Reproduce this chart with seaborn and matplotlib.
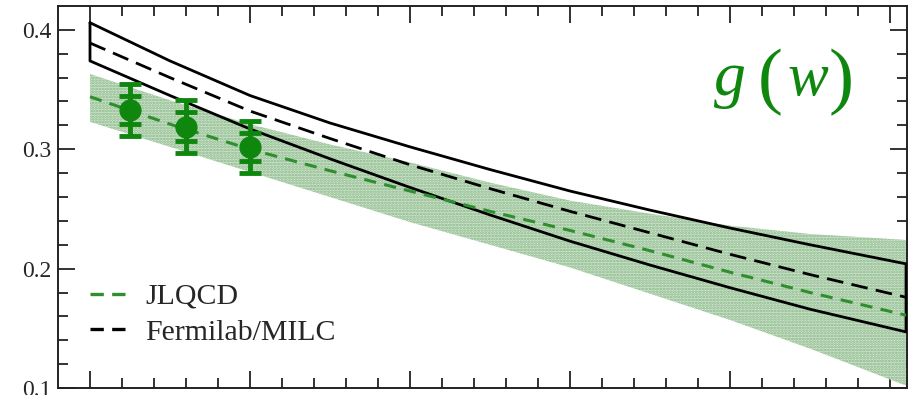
import pandas as pd
import seaborn as sns
import matplotlib.pyplot as plt
from matplotlib.lines import Line2D

# recoil w and form factor g(w)
w = [1.0, 1.05, 1.1, 1.15, 1.2, 1.25, 1.3, 1.35, 1.4, 1.45, 1.51]
fnal_hi = [0.406, 0.374, 0.345, 0.322, 0.302, 0.283, 0.265, 0.249, 0.234, 0.220, 0.204]
fnal_mid = [0.389, 0.360, 0.332, 0.309, 0.287, 0.267, 0.248, 0.230, 0.212, 0.195, 0.176]
fnal_lo = [0.374, 0.345, 0.317, 0.292, 0.268, 0.245, 0.223, 0.203, 0.184, 0.166, 0.147]
jl_hi = [0.363, 0.341, 0.321, 0.304, 0.289, 0.272, 0.257, 0.246, 0.236, 0.229, 0.224]
jl_mid = [0.344, 0.321, 0.300, 0.282, 0.265, 0.248, 0.232, 0.215, 0.197, 0.180, 0.161]
jl_lo = [0.323, 0.302, 0.281, 0.260, 0.239, 0.220, 0.201, 0.179, 0.157, 0.133, 0.102]

# JLQCD lattice points
pt_w = [1.025, 1.06, 1.10]
pt_g = [0.333, 0.319, 0.302]
pt_err_tot = [0.022, 0.022, 0.022]
pt_err_stat = [0.012, 0.012, 0.012]

black = '#000000'
lgreen = '#2f8f2f'
dgreen = '#0f870f'

sns.set_theme(style='ticks')
plt.rcParams['font.family'] = ['Liberation Serif', 'DejaVu Serif']
plt.rcParams['hatch.linewidth'] = 1.3

df = pd.DataFrame({'w': w, 'hi': fnal_hi, 'mid': fnal_mid, 'lo': fnal_lo,
                   'jhi': jl_hi, 'jmid': jl_mid, 'jlo': jl_lo})

fig = plt.figure(figsize=(9.12, 3.95), dpi=100)
ax = fig.add_axes([58 / 912, 1 - 388 / 395, 849 / 912, 382 / 395])

# JLQCD band
ax.fill_between(df['w'], df['jlo'], df['jhi'], facecolor='#d2e9cf',
                edgecolor='#86b286', hatch='......', linewidth=0, zorder=1)

# Fermilab/MILC band outline
ax.plot(list(w) + list(w[::-1]) + [w[0]], fnal_hi + fnal_lo[::-1] + [fnal_hi[0]],
        color=black, lw=2, zorder=3)
sns.lineplot(data=df, x='w', y='mid', color=black, lw=2, ax=ax, zorder=3,
             linestyle=(0, (6, 3)))
sns.lineplot(data=df, x='w', y='jmid', color=lgreen, lw=2.2, ax=ax, zorder=4,
             linestyle=(0, (4, 2.7)))

# points with two-level errors
ax.errorbar(pt_w, pt_g, yerr=pt_err_tot, fmt='none', ecolor=dgreen,
            elinewidth=3.5, capsize=8, capthick=3.5, zorder=5)
ax.errorbar(pt_w, pt_g, yerr=pt_err_stat, fmt='o', color=dgreen, ms=15,
            elinewidth=3.5, capsize=8, capthick=3.5, zorder=6)

# g(w) label
lbl = dict(transform=ax.transAxes, color=dgreen, va='baseline', ha='center')
ax.text(0.7915, 0.767, 'g', fontsize=46, fontstyle='italic', **lbl)
ax.text(0.883, 0.767, 'w', fontsize=44, fontstyle='italic', **lbl)
par = dict(transform=ax.transAxes, color=dgreen, va='center', ha='center',
           fontsize=54)
ax.text(0.8386, 0.80, '(', **par)
ax.text(0.922, 0.80, ')', **par)

ax.set_xlim(0.98, 1.5106)
ax.set_ylim(0.1, 0.42)
ax.set_xticks([1.0, 1.1, 1.2, 1.3, 1.4, 1.5])
ax.set_xticks([1.0 + 0.02 * i for i in range(26)], minor=True)
ax.set_yticks([0.1, 0.2, 0.3, 0.4])
ax.set_yticks([0.1 + 0.02 * i for i in range(16)], minor=True)
ax.set_yticklabels(['0.1', '0.2', '0.3', '0.4'])
ax.set_xticklabels([])
ax.set_xlabel('')
ax.set_ylabel('')
ax.tick_params(which='both', direction='in', top=True, right=True,
               color='#222222', width=1.3)
ax.tick_params(which='major', length=12, labelsize=17, pad=5)
ax.tick_params(which='minor', length=7)
for s in ax.spines.values():
    s.set_linewidth(1.4)
    s.set_color('#222222')

handles = [Line2D([], [], color=lgreen, lw=2.4, linestyle=(0, (4, 2.5))),
           Line2D([], [], color=black, lw=2.4, linestyle=(0, (4, 2.5)))]
ax.legend(handles, ['JLQCD', 'Fermilab/MILC'], loc='lower left',
          bbox_to_anchor=(0.006, 0.04), frameon=False, fontsize=21.5,
          handlelength=1.3, handletextpad=0.55, labelspacing=0.3)

fig.savefig('out.png', dpi=100)
